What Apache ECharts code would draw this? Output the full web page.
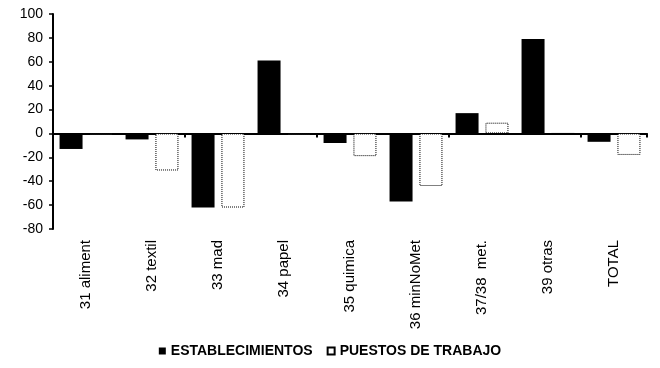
<!DOCTYPE html>
<html>
<head>
<meta charset="utf-8">
<script src="https://cdn.jsdelivr.net/npm/echarts@6/dist/echarts.min.js"></script>
<style>
  html, body { margin: 0; padding: 0; background: #fff; }
  #main { width: 660px; height: 368px; }
</style>
</head>
<body>
<div id="main"></div>
<script>
var categories = ['31 aliment', '32 textil', '33 mad', '34 papel', '35 quimica',
                  '36 minNoMet', '37/38  met.', '39 otras', 'TOTAL'];
var establecimientos = [-13, -5, -62, 61, -8, -57, 17, 79, -7];
var puestos = [-1, -31, -62, -1, -19, -44, 9, 0, -18];
var yTicks = { min: -80, max: 100, interval: 20 };

var chart = echarts.init(document.getElementById('main'));

chart.setOption({
    animation: false,
    textStyle: { fontFamily: 'Liberation Sans, Arial, sans-serif' },
    grid: { left: 53, right: 13, top: 14, bottom: 139 },
    legend: {
        bottom: 5,
        left: 'center',
        itemWidth: 7,
        itemHeight: 7,
        itemGap: 14,
        textStyle: { fontSize: 14, fontWeight: 'bold', color: '#000' },
        data: [
            { name: 'ESTABLECIMIENTOS', icon: 'rect' },
            { name: 'PUESTOS DE TRABAJO', icon: 'rect' }
        ]
    },
    xAxis: [
        {
            type: 'category',
            data: categories,
            axisLine: { onZero: true, lineStyle: { color: '#000', width: 2 } },
            axisTick: { show: true, length: 4, lineStyle: { color: '#000', width: 2 } },
            axisLabel: { show: false }
        },
        {
            type: 'category',
            data: categories,
            position: 'bottom',
            axisLine: { show: false, onZero: false },
            axisTick: { show: false },
            axisLabel: { rotate: 90, fontSize: 15, color: '#000', margin: 11 }
        }
    ],
    yAxis: {
        type: 'value',
        min: yTicks.min,
        max: yTicks.max,
        interval: yTicks.interval,
        axisLine: { show: true, lineStyle: { color: '#000', width: 2 } },
        axisTick: { show: true, length: 4, lineStyle: { color: '#000', width: 1.5 } },
        axisLabel: { fontSize: 14, color: '#000', margin: 10 },
        splitLine: { show: false }
    },
    series: [
        {
            name: 'ESTABLECIMIENTOS',
            type: 'bar',
            data: establecimientos,
            barWidth: 23,
            barGap: '30%',
            itemStyle: { color: '#000' }
        },
        {
            name: 'PUESTOS DE TRABAJO',
            type: 'bar',
            data: puestos,
            barWidth: 23,
            itemStyle: {
                color: '#fff',
                borderColor: '#000',
                borderWidth: 1,
                borderType: 'dotted'
            }
        }
    ]
});
</script>
</body>
</html>
